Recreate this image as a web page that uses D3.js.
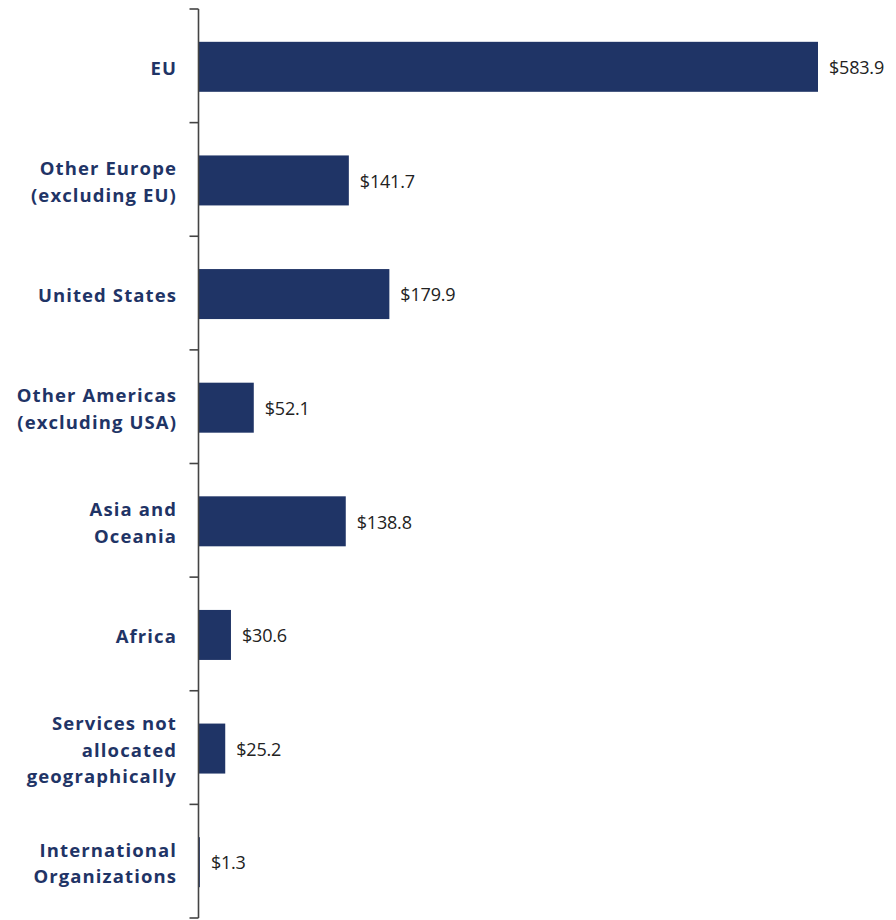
<!DOCTYPE html>
<html>
<head>
<meta charset="utf-8">
<script src="https://cdn.jsdelivr.net/npm/d3@7"></script>
<style>
  html, body { margin: 0; padding: 0; background: #fff; }
  svg { display: block; }
</style>
</head>
<body>
<div id="chart"></div>
<script>
// Categories (each entry is the label split into its drawn lines)
const categories = [
  ["EU"],
  ["Other Europe", "(excluding EU)"],
  ["United States"],
  ["Other Americas", "(excluding USA)"],
  ["Asia and", "Oceania"],
  ["Africa"],
  ["Services not", "allocated", "geographically"],
  ["International", "Organizations"]
];
const values = [583.9, 141.7, 179.9, 52.1, 138.8, 30.6, 25.2, 1.3];
const valueLabels = ["$583.9", "$141.7", "$179.9", "$52.1", "$138.8", "$30.6", "$25.2", "$1.3"];

const W = 896, H = 920;
const axisX = 198.5, plotTop = 9, plotBottom = 918;

const svg = d3.select("#chart").append("svg")
  .attr("width", W).attr("height", H);

const keys = categories.map((c, i) => i);

const y = d3.scaleBand()
  .domain(keys)
  .range([plotTop + 1, plotBottom + 1])
  .paddingInner(0.56)
  .paddingOuter(0.28);

const x = d3.scaleLinear()
  .domain([0, 583.9])
  .range([axisX, 818]);

// Bars
svg.append("g").selectAll("rect")
  .data(values)
  .join("rect")
  .attr("x", x(0))
  .attr("y", (d, i) => y(i))
  .attr("width", d => x(d) - x(0))
  .attr("height", y.bandwidth())
  .attr("fill", "#1f3466");

// Axis line with ticks at category boundaries
const step = y.step();
const boundaries = d3.range(categories.length + 1).map(i => plotTop + i * step);
const axis = svg.append("g");
axis.append("line")
  .attr("x1", axisX).attr("x2", axisX)
  .attr("y1", plotTop).attr("y2", plotBottom)
  .attr("stroke", "#444").attr("stroke-width", 1.6);
axis.selectAll("line.tick")
  .data(boundaries)
  .join("line")
  .attr("class", "tick")
  .attr("x1", axisX - 9).attr("x2", axisX)
  .attr("y1", d => d).attr("y2", d => d)
  .attr("stroke", "#444").attr("stroke-width", 1.6);

// Category labels
const lineH = 26.5;
const catG = svg.append("g")
  .attr("font-family", "'Open Sans', 'Noto Sans', sans-serif")
  .attr("font-weight", 700)
  .attr("font-size", 18.5)
  .attr("letter-spacing", 1.1)
  .attr("fill", "#1f3466")
  .attr("text-anchor", "end");
categories.forEach((lines, i) => {
  const cy = y(i) + y.bandwidth() / 2 + 1.5;
  const t = catG.append("text")
    .attr("y", cy - (lines.length - 1) * lineH / 2);
  lines.forEach((ln, j) => {
    t.append("tspan")
      .attr("x", 177)
      .attr("dy", j === 0 ? "0.35em" : lineH)
      .text(ln);
  });
});

// Value labels
svg.append("g").selectAll("text")
  .data(values)
  .join("text")
  .attr("x", d => x(d) + 11)
  .attr("y", (d, i) => y(i) + y.bandwidth() / 2 + 1)
  .attr("dy", "0.35em")
  .attr("font-family", "'Open Sans', 'Noto Sans', sans-serif")
  .attr("font-size", 18)
  .attr("letter-spacing", -0.2)
  .attr("fill", "#222")
  .text((d, i) => valueLabels[i]);
</script>
</body>
</html>
